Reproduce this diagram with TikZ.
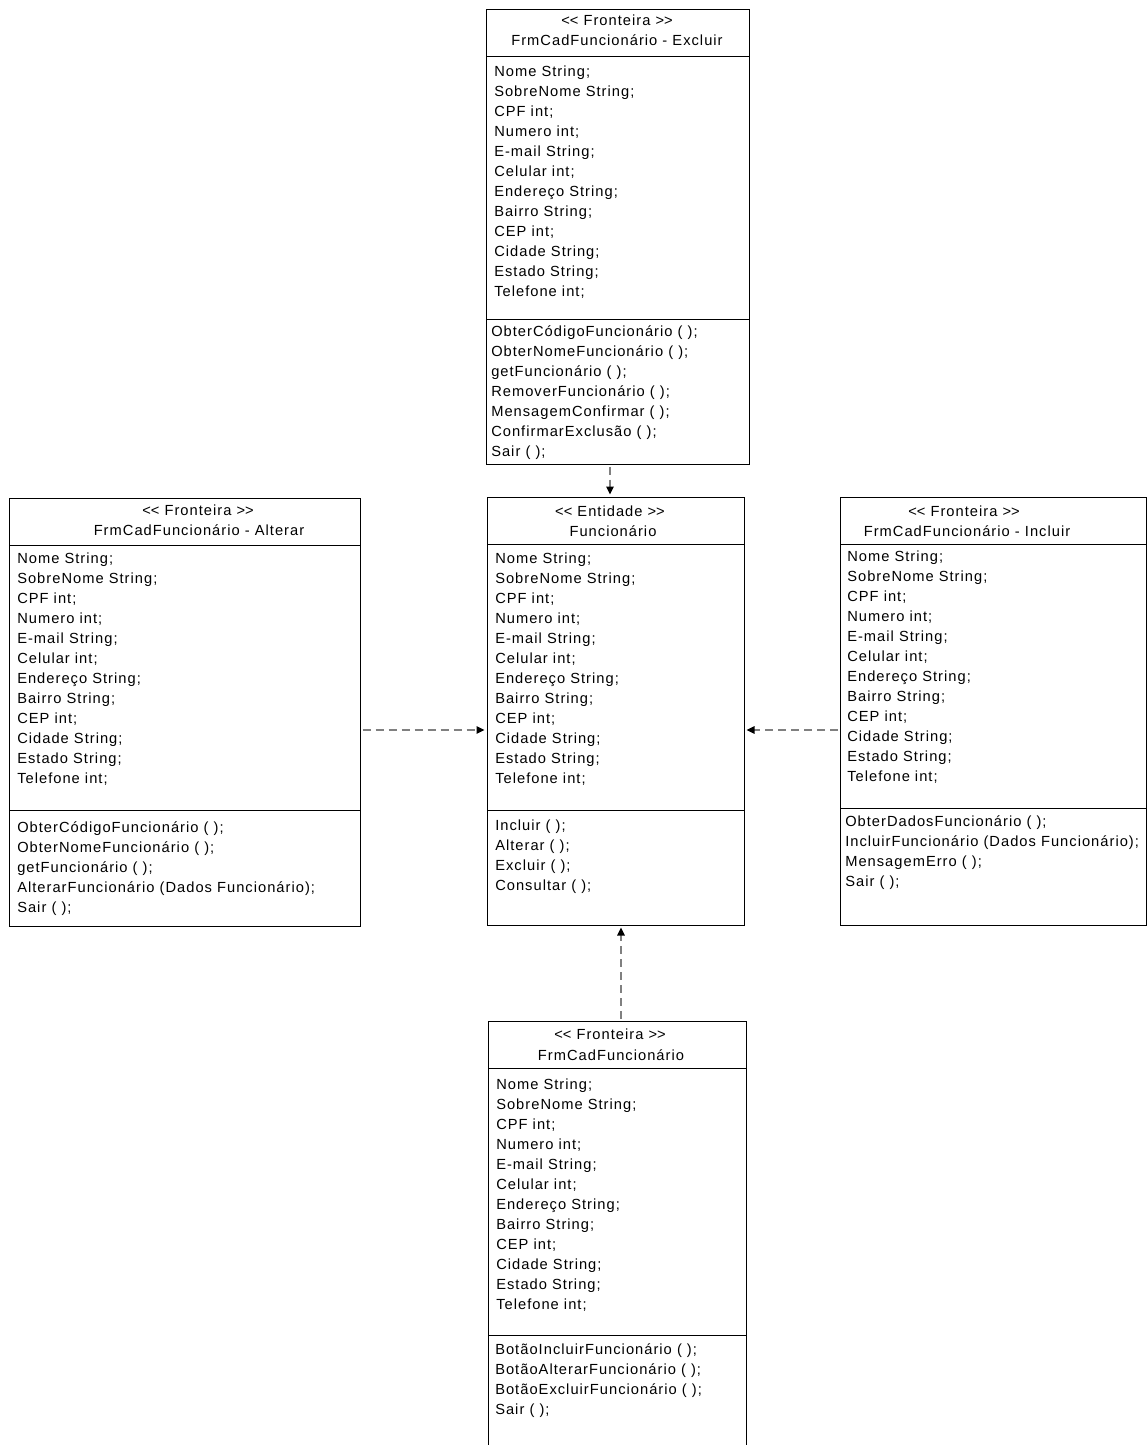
\documentclass[tikz,border=0pt]{standalone}
\usepackage{fontspec}
\setmainfont{Liberation Sans}[LetterSpace=7]
\usetikzlibrary{arrows.meta,fit}
\definecolor{depgray}{RGB}{128,128,128}

% stereotype brackets, kept apart so no guillemet ligature forms
\newcommand{\stbegin}{<\kern0pt<}
\newcommand{\stend}{>\kern0pt>}
\newcommand{\funcattrs}{Nome String;,SobreNome String;,CPF int;,Numero int;,E-mail String;,Celular int;,Endereço String;,Bairro String;,CEP int;,Cidade String;,Estado String;,Telefone int;}

\begin{document}
\begin{tikzpicture}[
    x=0.75pt,
    y=-0.75pt,
    font=\fontsize{11pt}{13pt}\selectfont,
    classbox/.style={draw,line width=0.75pt,inner sep=0pt},
    divider/.style={line width=0.75pt},
    title/.style={anchor=base,inner sep=0pt},
    member/.style={anchor=base west,inner sep=0pt},
    dep/.style={draw=depgray,line width=1.5pt,dash pattern=on 6pt off 3.75pt,
      -{Triangle[length=6pt,width=5.5pt,color=black]},shorten <=1.5pt,shorten >=1.5pt}
]
  \useasboundingbox (0,0) rectangle (1147,1445);
  \clip (0,0) rectangle (1147,1445);

  % Fronteira - Excluir
  \node[classbox,fit={(486,10) (749,464)}] (exc) {};
  \draw[divider] (486,57) -- (749,57);
  \draw[divider] (486,319) -- (749,319);
  \node[title] (exc-st) at (617,26) {\stbegin{} Fronteira \stend};
  \node[title] (exc-nm) at (617,46) {FrmCadFuncionário - Excluir};
  \foreach \t [count=\i from 0] in \funcattrs
    \node[member] (exc-a\i) at (494,76+20*\i) {\t};
  \foreach \t [count=\i from 0] in {ObterCódigoFuncionário ( );,ObterNomeFuncionário ( );,getFuncionário ( );,RemoverFuncionário ( );,MensagemConfirmar ( );,ConfirmarExclusão ( );,Sair ( );}
    \node[member] (exc-m\i) at (491,336+20*\i) {\t};

  % Entidade
  \node[classbox,fit={(487,497) (744,925)}] (ent) {};
  \draw[divider] (487,544) -- (744,544);
  \draw[divider] (487,810) -- (744,810);
  \node[title] (ent-st) at (610,516) {\stbegin{} Entidade \stend};
  \node[title] (ent-nm) at (613,536) {Funcionário};
  \foreach \t [count=\i from 0] in \funcattrs
    \node[member] (ent-a\i) at (495,563+20*\i) {\t};
  \foreach \t [count=\i from 0] in {Incluir ( );,Alterar ( );,Excluir ( );,Consultar ( );}
    \node[member] (ent-m\i) at (495,830+20*\i) {\t};

  % Fronteira - Alterar
  \node[classbox,fit={(9,498) (360,926)}] (alt) {};
  \draw[divider] (9,545) -- (360,545);
  \draw[divider] (9,810) -- (360,810);
  \node[title] (alt-st) at (198,515) {\stbegin{} Fronteira \stend};
  \node[title] (alt-nm) at (199,535) {FrmCadFuncionário - Alterar};
  \foreach \t [count=\i from 0] in \funcattrs
    \node[member] (alt-a\i) at (17,563+20*\i) {\t};
  \foreach \t [count=\i from 0] in {ObterCódigoFuncionário ( );,ObterNomeFuncionário ( );,getFuncionário ( );,AlterarFuncionário (Dados Funcionário);,Sair ( );}
    \node[member] (alt-m\i) at (17,832+20*\i) {\t};

  % Fronteira - Incluir
  \node[classbox,fit={(840,497) (1146,925)}] (inc) {};
  \draw[divider] (840,544) -- (1146,544);
  \draw[divider] (840,808) -- (1146,808);
  \node[title] (inc-st) at (964,516) {\stbegin{} Fronteira \stend};
  \node[title] (inc-nm) at (967,536) {FrmCadFuncionário - Incluir};
  \foreach \t [count=\i from 0] in \funcattrs
    \node[member] (inc-a\i) at (847,561+20*\i) {\t};
  \foreach \t [count=\i from 0] in {ObterDadosFuncionário ( );,IncluirFuncionário (Dados Funcionário);,MensagemErro ( );,Sair ( );}
    \node[member] (inc-m\i) at (845,826+20*\i) {\t};

  % Fronteira - principal
  \node[classbox,fit={(488,1021) (746,1470)}] (frm) {};
  \draw[divider] (488,1068) -- (746,1068);
  \draw[divider] (488,1335) -- (746,1335);
  \node[title] (frm-st) at (610,1039) {\stbegin{} Fronteira \stend};
  \node[title] (frm-nm) at (611,1060) {FrmCadFuncionário};
  \foreach \t [count=\i from 0] in \funcattrs
    \node[member] (frm-a\i) at (496,1089+20*\i) {\t};
  \foreach \t [count=\i from 0] in {BotãoIncluirFuncionário ( );,BotãoAlterarFuncionário ( );,BotãoExcluirFuncionário ( );,Sair ( );}
    \node[member] (frm-m\i) at (495,1354+20*\i) {\t};

  % dependencies
  \coordinate (topx) at (610,0);
  \coordinate (botx) at (621,0);
  \coordinate (midy) at (0,730);
  \draw[dep] (exc.south -| topx) -- (ent.north -| topx);
  \draw[dep] (alt.east |- midy) -- (ent.west |- midy);
  \draw[dep] (inc.west |- midy) -- (ent.east |- midy);
  \draw[dep] (frm.north -| botx) -- (ent.south -| botx);
\end{tikzpicture}
\end{document}
